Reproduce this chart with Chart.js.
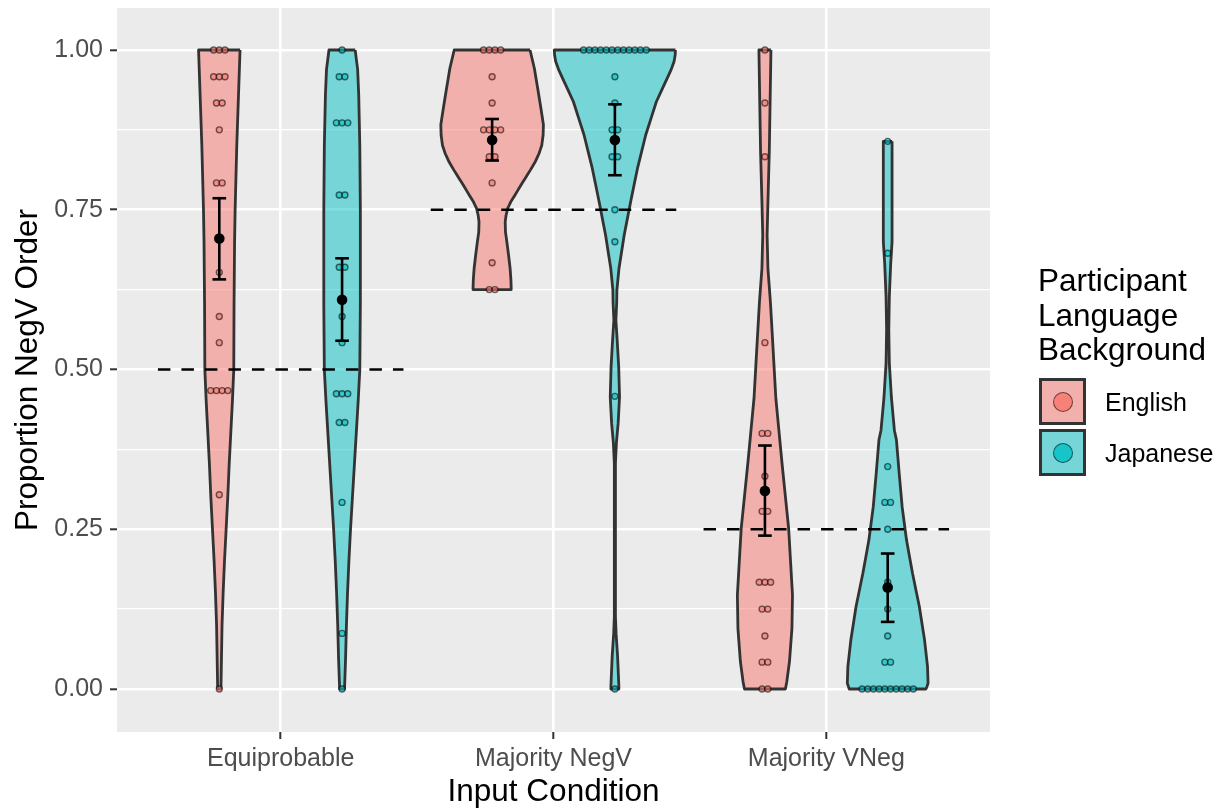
<!DOCTYPE html>
<html>
<head>
<meta charset="utf-8">
<title>Proportion NegV Order by Input Condition</title>
<script src="https://cdn.jsdelivr.net/npm/chart.js@4.4.1/dist/chart.umd.min.js"></script>
<style>
  html, body { margin: 0; padding: 0; background: #ffffff; }
  #wrap { position: relative; width: 1221px; height: 808px; overflow: hidden; }
  #chart { position: absolute; left: 0; top: 0; }
  .lg { position: absolute; font-family: "Liberation Sans", Arial, Helvetica, sans-serif; color: #000; white-space: nowrap; }
  .lg-title { font-size: 31.5px; line-height: 34.5px; }
  .lg-key { position: absolute; box-sizing: border-box; width: 47px; height: 47px; border: 3px solid #333333; }
  .lg-dot { position: absolute; left: 50%; top: 50%; width: 20px; height: 20px; margin: -10px 0 0 -10px; box-sizing: border-box; border-radius: 50%; border: 1.5px solid rgba(0,0,0,0.55); }
  .lg-label { font-size: 25px; line-height: 28px; }
</style>
</head>
<body>
<div id="wrap">
  <canvas id="chart" width="1221" height="808"></canvas>
</div>
<script>
// ---- categories and groups ----
const conditions = ['Equiprobable', 'Majority NegV', 'Majority VNeg'];
const languages = ['English', 'Japanese'];
const chanceLevels = [0.50, 0.75, 0.25];

// ---- axis ticks ----
const yTickValues = [0, 0.25, 0.50, 0.75, 1.00];
const yTickLabels = ['0.00', '0.25', '0.50', '0.75', '1.00'];

// ---- per-participant proportions ----
const englishEquiprobable = [1, 1, 1, 0.958, 0.958, 0.958, 0.917, 0.917, 0.875, 0.792, 0.792,
  0.652, 0.583, 0.542, 0.467, 0.467, 0.467, 0.467, 0.304, 0];
const englishMajorityNegV = [1, 1, 1, 1, 0.958, 0.917, 0.875, 0.875, 0.875, 0.875, 0.833, 0.833,
  0.792, 0.667, 0.625, 0.625];
const englishMajorityVNeg = [1, 0.917, 0.833, 0.542, 0.400, 0.400, 0.333, 0.278, 0.278,
  0.167, 0.167, 0.167, 0.125, 0.125, 0.083, 0.042, 0.042, 0, 0];
const japaneseEquiprobable = [1, 0.958, 0.958, 0.886, 0.886, 0.886, 0.773, 0.773, 0.660, 0.660,
  0.583, 0.542, 0.462, 0.462, 0.462, 0.417, 0.417, 0.292, 0.087, 0];
const japaneseMajorityNegV = [1, 1, 1, 1, 1, 1, 1, 1, 1, 1, 1, 1, 0.958, 0.917, 0.875, 0.875,
  0.833, 0.833, 0.750, 0.700, 0.458, 0];
const japaneseMajorityVNeg = [0.857, 0.682, 0.348, 0.292, 0.292, 0.250, 0.167, 0.125, 0.083,
  0.042, 0.042, 0, 0, 0, 0, 0, 0, 0, 0, 0, 0];

// ---- group means with 95% confidence intervals ----
const englishMeans  = [0.705, 0.859, 0.310];
const englishCILow  = [0.641, 0.827, 0.240];
const englishCIHigh = [0.768, 0.892, 0.381];
const japaneseMeans  = [0.609, 0.859, 0.159];
const japaneseCILow  = [0.545, 0.804, 0.105];
const japaneseCIHigh = [0.674, 0.915, 0.212];

// ---- violin outlines: [proportion, half-width in category units] ----
const englishEquiprobableViolin = [[1.00, 0.076], [0.95, 0.072], [0.90, 0.068], [0.85, 0.064],
  [0.80, 0.061], [0.75, 0.058], [0.70, 0.056], [0.60, 0.054], [0.50, 0.053], [0.45, 0.048],
  [0.40, 0.042], [0.35, 0.036], [0.30, 0.031], [0.25, 0.025], [0.20, 0.019], [0.15, 0.014],
  [0.10, 0.010], [0.05, 0.008], [0.00, 0.006]];
const japaneseEquiprobableViolin = [[1.00, 0.048], [0.97, 0.057], [0.93, 0.061], [0.85, 0.065],
  [0.75, 0.067], [0.60, 0.067], [0.50, 0.065], [0.45, 0.059], [0.40, 0.052], [0.35, 0.045],
  [0.30, 0.038], [0.25, 0.031], [0.20, 0.025], [0.15, 0.020], [0.10, 0.016], [0.05, 0.013],
  [0.00, 0.009]];
const englishMajorityNegVViolin = [[1.000, 0.139], [0.971, 0.155], [0.940, 0.167], [0.919, 0.175],
  [0.900, 0.182], [0.883, 0.188], [0.867, 0.187], [0.851, 0.182], [0.838, 0.172], [0.825, 0.158],
  [0.812, 0.140], [0.799, 0.121], [0.786, 0.102], [0.773, 0.084], [0.762, 0.068], [0.752, 0.057],
  [0.741, 0.051], [0.731, 0.048], [0.715, 0.049], [0.700, 0.054], [0.680, 0.060], [0.658, 0.066],
  [0.640, 0.069], [0.625, 0.070]];
const japaneseMajorityNegVViolin = [[1.000, 0.222], [0.992, 0.221], [0.982, 0.217], [0.970, 0.207],
  [0.956, 0.192], [0.919, 0.152], [0.867, 0.113], [0.815, 0.083], [0.763, 0.058], [0.710, 0.034],
  [0.658, 0.015], [0.624, 0.0073], [0.604, 0.0066], [0.577, 0.0037], [0.546, 0.0084],
  [0.504, 0.014], [0.457, 0.017], [0.416, 0.012], [0.385, 0.0055], [0.353, 0.002],
  [0.113, 0.002], [0.087, 0.0044], [0.051, 0.0099], [0.004, 0.0146], [0.000, 0.0146]];
const englishMajorityVNegViolin = [[1.000, 0.022], [0.919, 0.019], [0.841, 0.016], [0.763, 0.011],
  [0.710, 0.008], [0.658, 0.011], [0.606, 0.020], [0.554, 0.027], [0.455, 0.040], [0.356, 0.062],
  [0.251, 0.087], [0.147, 0.101], [0.095, 0.099], [0.043, 0.090], [0.011, 0.080], [0.000, 0.075]];
const japaneseMajorityVNegViolin = [[0.857, 0.016], [0.700, 0.016], [0.666, 0.011], [0.614, 0.006],
  [0.562, 0.004], [0.510, 0.006], [0.457, 0.0135], [0.405, 0.0245], [0.390, 0.032],
  [0.338, 0.042], [0.285, 0.053], [0.233, 0.069], [0.181, 0.091], [0.129, 0.116], [0.077, 0.135],
  [0.035, 0.146], [0.009, 0.148], [0.000, 0.141]];

// ---- styling ----
const FONT = '"Liberation Sans", Arial, Helvetica, sans-serif';
const groupFills  = ['rgba(248,118,109,0.5)', 'rgba(0,191,196,0.5)'];
const dotFills    = ['rgba(248,118,109,0.6)', 'rgba(0,191,196,0.6)'];
const legendDotFills = ['rgba(248,118,109,0.8)', 'rgba(0,191,196,0.8)'];
const PANEL_BG = '#ebebeb';
const DODGE = 0.225;       // offset of each language from the category centre
const DOT_STEP = 0.0209;   // horizontal spacing between stacked dots
const CAP_HALF = 0.025;    // half width of error-bar caps
const REF_HALF = 0.45;     // half length of the chance-level segment

const scoreSets = [
  [englishEquiprobable, englishMajorityNegV, englishMajorityVNeg],
  [japaneseEquiprobable, japaneseMajorityNegV, japaneseMajorityVNeg]
];
const violinSets = [
  [englishEquiprobableViolin, englishMajorityNegVViolin, englishMajorityVNegViolin],
  [japaneseEquiprobableViolin, japaneseMajorityNegVViolin, japaneseMajorityVNegViolin]
];
const meanSets = [englishMeans, japaneseMeans];
const lowSets  = [englishCILow, japaneseCILow];
const highSets = [englishCIHigh, japaneseCIHigh];

const centreOf = (ci, gi) => ci + 1 + (gi === 0 ? -DODGE : DODGE);

// closed outline: right side top-to-bottom, then left side bottom-to-top
function violinOutline(centre, profile) {
  const right = profile.map(([y, w]) => ({ x: centre + w, y }));
  const left = profile.slice().reverse().map(([y, w]) => ({ x: centre - w, y }));
  const pts = right.concat(left);
  pts.push({ x: pts[0].x, y: pts[0].y });
  return pts;
}

// centred dot stacks for repeated values
function dotStacks(centre, scores) {
  const counts = new Map();
  scores.forEach(v => counts.set(v, (counts.get(v) || 0) + 1));
  const pts = [];
  counts.forEach((n, v) => {
    for (let i = 0; i < n; i++) pts.push({ x: centre + (i - (n - 1) / 2) * DOT_STEP, y: v });
  });
  return pts;
}

const datasets = [];

// violins (a tiny tension keeps the outline on the full path renderer,
// which draws closed, unsorted shapes point by point)
languages.forEach((lang, gi) => {
  conditions.forEach((cond, ci) => {
    datasets.push({
      label: lang + ' ' + cond + ' violin',
      data: violinOutline(centreOf(ci, gi), violinSets[gi][ci]),
      showLine: true,
      fill: 'shape',
      backgroundColor: groupFills[gi],
      borderColor: '#333333',
      borderWidth: 2.8,
      borderJoinStyle: 'round',
      pointRadius: 0,
      tension: 0.0001,
      order: 50
    });
  });
});

// chance-level reference segments
conditions.forEach((cond, ci) => {
  datasets.push({
    label: cond + ' chance',
    data: [{ x: ci + 1 - REF_HALF, y: chanceLevels[ci] }, { x: ci + 1 + REF_HALF, y: chanceLevels[ci] }],
    showLine: true,
    borderColor: '#000000',
    borderWidth: 2.6,
    borderDash: [12.5, 11],
    borderCapStyle: 'butt',
    pointRadius: 0,
    fill: false,
    order: 40
  });
});

// participant dots
languages.forEach((lang, gi) => {
  const pts = [];
  conditions.forEach((cond, ci) => pts.push(...dotStacks(centreOf(ci, gi), scoreSets[gi][ci])));
  datasets.push({
    label: lang + ' participants',
    data: pts,
    showLine: false,
    pointRadius: 3,
    pointBorderWidth: 1.4,
    pointBackgroundColor: dotFills[gi],
    pointBorderColor: 'rgba(0,0,0,0.55)',
    order: 30
  });
});

// error bars
languages.forEach((lang, gi) => {
  conditions.forEach((cond, ci) => {
    const c = centreOf(ci, gi);
    const lo = lowSets[gi][ci], hi = highSets[gi][ci];
    const segs = [
      [{ x: c, y: lo }, { x: c, y: hi }],
      [{ x: c - CAP_HALF, y: lo }, { x: c + CAP_HALF, y: lo }],
      [{ x: c - CAP_HALF, y: hi }, { x: c + CAP_HALF, y: hi }]
    ];
    segs.forEach(seg => datasets.push({
      label: lang + ' ' + cond + ' CI',
      data: seg,
      showLine: true,
      borderColor: '#000000',
      borderWidth: 2.6,
      borderCapStyle: 'butt',
      pointRadius: 0,
      fill: false,
      order: 20
    }));
  });
});

// means
languages.forEach((lang, gi) => {
  datasets.push({
    label: lang + ' mean',
    data: conditions.map((cond, ci) => ({ x: centreOf(ci, gi), y: meanSets[gi][ci] })),
    showLine: false,
    pointRadius: 5.3,
    pointBorderWidth: 0,
    pointBackgroundColor: '#000000',
    order: 10
  });
});

const panelBackground = {
  id: 'panelBackground',
  beforeDraw(chart) {
    const { ctx, chartArea: a } = chart;
    ctx.save();
    ctx.fillStyle = PANEL_BG;
    ctx.fillRect(a.left, a.top, a.right - a.left, a.bottom - a.top);
    ctx.restore();
  }
};

const isMajorY = v => Math.abs(v * 4 - Math.round(v * 4)) < 1e-6;

new Chart(document.getElementById('chart'), {
  type: 'scatter',
  data: { datasets },
  plugins: [panelBackground],
  options: {
    responsive: false,
    animation: false,
    devicePixelRatio: 1,
    layout: { padding: { left: 0, top: 8, right: 231, bottom: 0 } },
    plugins: { legend: { display: false }, tooltip: { enabled: false } },
    scales: {
      x: {
        type: 'linear',
        min: 0.4,
        max: 3.6,
        afterBuildTicks: s => { s.ticks = conditions.map((c, i) => ({ value: i + 1 })); },
        afterFit: s => { s.height = 76; s.paddingLeft = 0; s.paddingRight = 0; },
        ticks: {
          callback: v => conditions[Math.round(v) - 1] || '',
          font: { family: FONT, size: 25 },
          color: '#4d4d4d',
          padding: 5,
          autoSkip: false,
          maxRotation: 0
        },
        grid: { color: '#ffffff', lineWidth: 2.6, tickColor: '#333333', tickLength: 7, tickWidth: 2 },
        border: { display: false },
        title: {
          display: true,
          text: 'Input Condition',
          font: { family: FONT, size: 31.5 },
          color: '#000000',
          padding: { top: 0, bottom: -3 }
        }
      },
      y: {
        type: 'linear',
        min: -0.0673,
        max: 1.0657,
        afterBuildTicks: s => {
          const vals = [];
          for (let i = 0; i < yTickValues.length; i++) {
            vals.push(yTickValues[i]);
            if (i < yTickValues.length - 1) vals.push((yTickValues[i] + yTickValues[i + 1]) / 2);
          }
          s.ticks = vals.map(v => ({ value: v }));
        },
        afterFit: s => { s.width = 117; s.paddingTop = 0; s.paddingBottom = 0; },
        ticks: {
          callback: v => {
            const i = yTickValues.findIndex(t => Math.abs(t - v) < 1e-6);
            return i >= 0 ? yTickLabels[i] : '';
          },
          font: { family: FONT, size: 25 },
          color: '#4d4d4d',
          padding: 7,
          autoSkip: false
        },
        grid: {
          color: '#ffffff',
          lineWidth: ctx => (ctx.tick && isMajorY(ctx.tick.value)) ? 2.6 : 1.3,
          tickColor: ctx => (ctx.tick && isMajorY(ctx.tick.value)) ? '#333333' : 'rgba(0,0,0,0)',
          tickLength: 7,
          tickWidth: 2
        },
        border: { display: false },
        title: {
          display: true,
          text: 'Proportion NegV Order',
          font: { family: FONT, size: 31.5 },
          color: '#000000',
          padding: { top: 9, bottom: 0 }
        }
      }
    }
  }
});

// legend for the language groups
(function buildLegend() {
  const wrap = document.getElementById('wrap');
  const title = document.createElement('div');
  title.className = 'lg lg-title';
  title.style.left = '1038px';
  title.style.top = '263px';
  title.innerHTML = 'Participant<br>Language<br>Background';
  wrap.appendChild(title);
  const keyTops = [378, 429];
  languages.forEach((lang, gi) => {
    const key = document.createElement('div');
    key.className = 'lg-key';
    key.style.left = '1039px';
    key.style.top = keyTops[gi] + 'px';
    key.style.background = 'linear-gradient(' + groupFills[gi] + ',' + groupFills[gi] + '), ' + PANEL_BG;
    const dot = document.createElement('div');
    dot.className = 'lg-dot';
    dot.style.background = legendDotFills[gi];
    key.appendChild(dot);
    wrap.appendChild(key);
    const label = document.createElement('div');
    label.className = 'lg lg-label';
    label.style.left = '1105px';
    label.style.top = (keyTops[gi] + 23.5 - 14) + 'px';
    label.textContent = lang;
    wrap.appendChild(label);
  });
})();
</script>
</body>
</html>
